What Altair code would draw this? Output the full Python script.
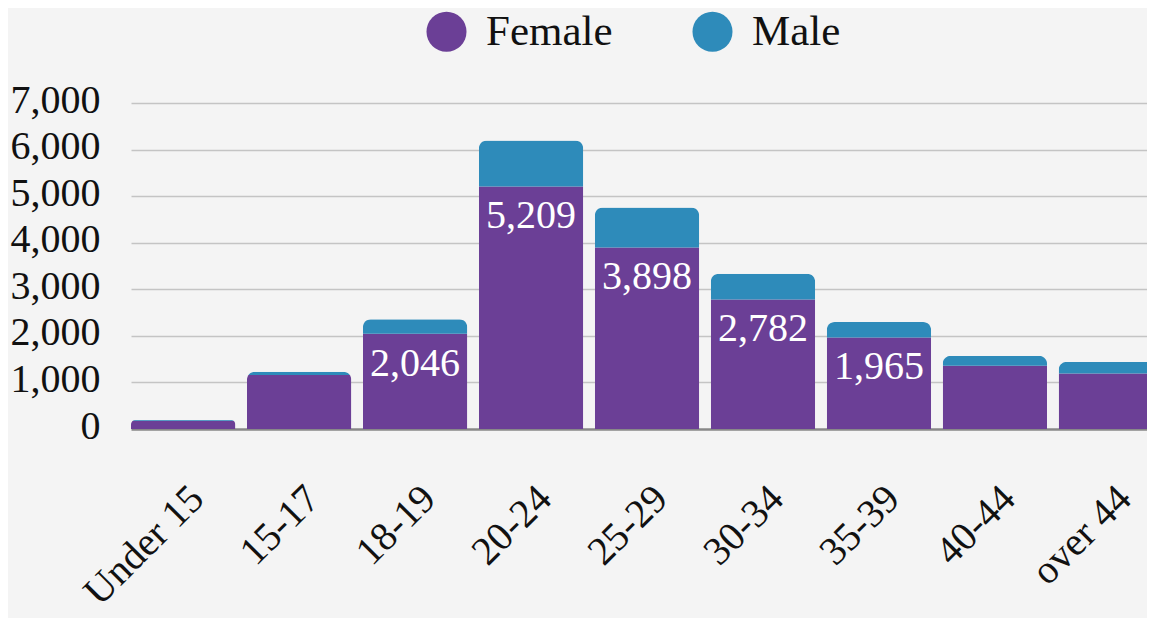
import altair as alt
import pandas as pd

ages = ["Under 15", "15-17", "18-19", "20-24", "25-29", "30-34", "35-39", "40-44", "over 44"]
female = [175, 1160, 2046, 5209, 3898, 2782, 1965, 1360, 1190]
male = [20, 70, 313, 985, 860, 550, 330, 210, 250]
labelled = [False, False, True, True, True, True, True, False, False]

rows = []
for a, f, m, lab in zip(ages, female, male, labelled):
    rows.append({"age": a, "sex": "Female", "count": f, "ord": 0, "show": lab})
    rows.append({"age": a, "sex": "Male", "count": m, "ord": 1, "show": lab})
df = pd.DataFrame(rows)

FONT = "Liberation Serif"

xscale = alt.Scale(paddingInner=0.1, paddingOuter=0, range=[0, 1032])

x = alt.X("age:N", sort=ages, title=None, scale=xscale,
          axis=alt.Axis(labelAngle=-45, labelFontSize=40, labelFont=FONT, labelColor="#111",
                        ticks=False, labelPadding=49, domain=False))

bars = alt.Chart(df).mark_bar(cornerRadiusEnd=8).encode(
    x=x,
    y=alt.Y("count:Q", stack="zero", title=None,
            scale=alt.Scale(domain=[0, 7000]),
            axis=alt.Axis(values=[0, 1000, 2000, 3000, 4000, 5000, 6000, 7000], format=",.0f",
                          labelFontSize=40, labelFont=FONT, labelColor="#111",
                          ticks=False, domain=False, labelPadding=31, labelOffset=-3,
                          gridColor={"condition": {"test": "datum.value === 0", "value": "#888888"},
                                     "value": "#c4c4c4"},
                          gridWidth={"condition": {"test": "datum.value === 0", "value": 2.5},
                                     "value": 1.5})),
    color=alt.Color("sex:N", title=None,
                    scale=alt.Scale(domain=["Female", "Male"], range=["#6b3f96", "#2e8bba"]),
                    legend=alt.Legend(orient="none", legendX=294, legendY=-93, direction="horizontal",
                                      symbolType="circle", symbolSize=1600, symbolStrokeWidth=0,
                                      symbolOpacity=1, labelFontSize=43, labelFont=FONT,
                                      labelColor="#111", labelOffset=18, columnPadding=78,
                                      padding=0)),
    order=alt.Order("ord:Q"),
)

text = alt.Chart(df).transform_filter(
    "datum.sex == 'Female' && datum.show"
).mark_text(font=FONT, fontSize=40, color="white", baseline="middle", dy=30).encode(
    x=alt.X("age:N", sort=ages, scale=xscale),
    y=alt.Y("count:Q"),
    text=alt.Text("count:Q", format=",.0f"),
)

chart = alt.layer(bars, text).properties(
    width=1016, height=326,
    background="#f4f4f4",
    autosize=alt.AutoSizeParams(type="none"),
    padding={"left": 123, "top": 95, "right": 0, "bottom": 190},
).configure_view(stroke=None)

chart.save("out.html", embed_options={"renderer": "svg", "actions": False})
